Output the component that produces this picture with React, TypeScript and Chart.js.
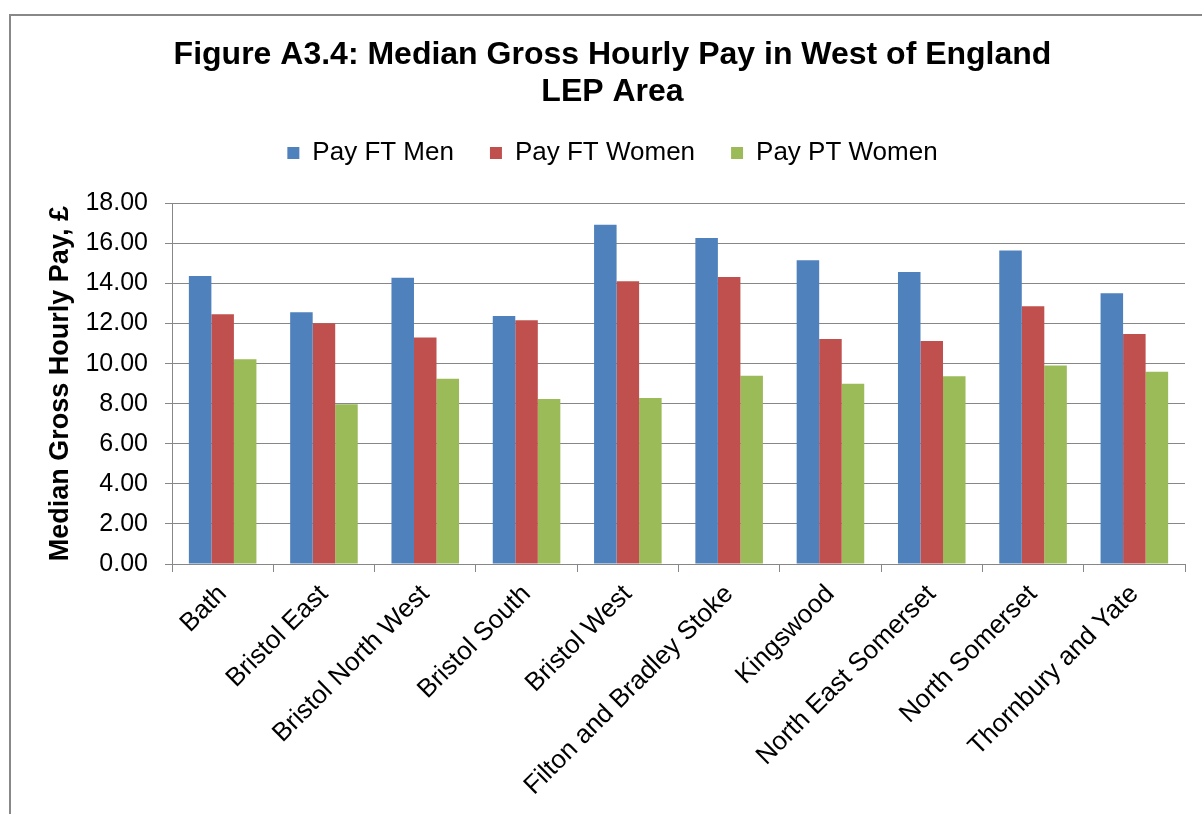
import React, { useEffect, useRef } from "react";
import { Chart, registerables } from "chart.js";

Chart.register(...registerables);

const categories = [
  "Bath",
  "Bristol East",
  "Bristol North West",
  "Bristol South",
  "Bristol West",
  "Filton and Bradley Stoke",
  "Kingswood",
  "North East Somerset",
  "North Somerset",
  "Thornbury and Yate",
];

const payFTMen = [14.37, 12.56, 14.29, 12.38, 16.93, 16.27, 15.16, 14.57, 15.65, 13.51];
const payFTWomen = [12.46, 12.01, 11.3, 12.16, 14.11, 14.32, 11.23, 11.13, 12.86, 11.48];
const payPTWomen = [10.22, 7.97, 9.24, 8.24, 8.29, 9.4, 8.99, 9.37, 9.9, 9.59];

const seriesNames = ["Pay FT Men", "Pay FT Women", "Pay PT Women"];
const titleLines = ["Figure A3.4: Median Gross Hourly Pay in West of England", "LEP Area"];
const yAxisTitle = "Median Gross Hourly Pay, £";

const FONT = "'Liberation Sans', Arial, Helvetica, sans-serif";

export default function App() {
  const canvasRef = useRef<HTMLCanvasElement | null>(null);

  useEffect(() => {
    if (!canvasRef.current) return;
    const chart = new Chart(canvasRef.current, {
      type: "bar",
      data: {
        labels: categories,
        datasets: [
          { label: seriesNames[0], data: payFTMen, backgroundColor: "#4F81BD" },
          { label: seriesNames[1], data: payFTWomen, backgroundColor: "#C0504D" },
          { label: seriesNames[2], data: payPTWomen, backgroundColor: "#9BBB59" },
        ],
      },
      options: {
        responsive: false,
        animation: false,
        devicePixelRatio: 1,
        layout: { padding: { left: 40, right: 17, top: 0, bottom: 0 } },
        datasets: {
          bar: { categoryPercentage: 0.667, barPercentage: 1, borderWidth: 0 },
        },
        plugins: {
          title: {
            display: true,
            text: titleLines,
            color: "#000",
            font: { family: FONT, size: 32, weight: "bold", lineHeight: "37px" },
            padding: { top: 36.5, bottom: -6.5 },
          },
          legend: {
            display: true,
            position: "top",
            labels: {
              color: "#000",
              boxWidth: 12,
              boxHeight: 12,
              padding: 36,
              font: { family: FONT, size: 26 },
            },
          },
          subtitle: {
            display: true,
            text: "",
            weight: 500,
            font: { size: 1, lineHeight: 1 },
            padding: { top: 26.3, bottom: 0 },
          },
          tooltip: { enabled: false },
        },
        scales: {
          x: {
            grid: {
              display: true,
              drawOnChartArea: false,
              drawTicks: true,
              tickLength: 8,
              color: "#878787",
              offset: true,
            },
            border: { display: true, color: "#878787", width: 1 },
            ticks: {
              color: "#000",
              font: { family: FONT, size: 26 },
              minRotation: 45,
              maxRotation: 45,
              autoSkip: false,
              padding: 7,
            },
            afterFit: (scale: any) => {
              scale.height = 250;
            },
          },
          y: {
            min: 0,
            max: 18,
            grid: { color: "#878787", tickLength: 7, drawTicks: true },
            border: { display: true, color: "#878787", width: 1 },
            ticks: {
              stepSize: 2,
              color: "#000",
              padding: 17,
              font: { family: FONT, size: 25 },
              callback: (v: any) => Number(v).toFixed(2),
            },
            title: {
              display: true,
              text: yAxisTitle,
              color: "#000",
              font: { family: FONT, size: 27, weight: "bold" },
              padding: { top: 4, bottom: 4 },
            },
            afterFit: (scale: any) => {
              scale.width = 132;
            },
          },
        },
      },
    });
    return () => chart.destroy();
  }, []);

  return (
    <div
      style={{
        position: "fixed",
        left: 0,
        top: 0,
        width: 1202,
        height: 814,
        overflow: "hidden",
        background: "#fff",
      }}
    >
      <div
        style={{
          position: "absolute",
          left: 9,
          top: 14,
          width: 3000,
          height: 3000,
          borderLeft: "2px solid #888",
          borderTop: "2px solid #888",
        }}
      />
      <canvas
        ref={canvasRef}
        width={1202}
        height={814}
        style={{ position: "absolute", left: 0, top: 0, display: "block" }}
      />
    </div>
  );
}
